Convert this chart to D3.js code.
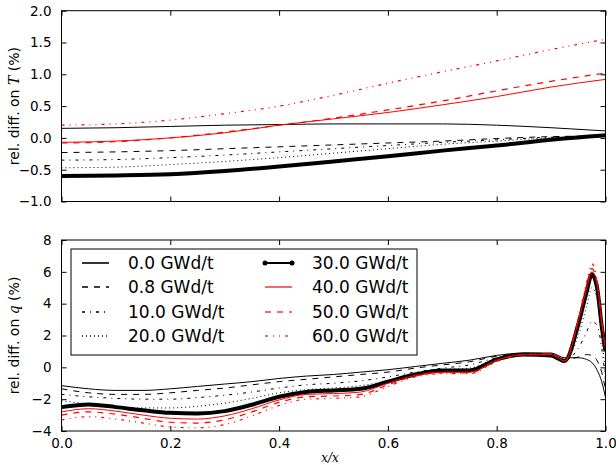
<!DOCTYPE html>
<html>
<head>
<meta charset="utf-8">
<script src="https://cdn.jsdelivr.net/npm/d3@7"></script>
<style>
  body { margin: 0; background: #fff; }
  text { font-family: "DejaVu Sans", sans-serif; fill: #000; }
</style>
</head>
<body>
<div id="chartDiv"></div>
<script>
// burnup steps (legend)
var burnups = ["0.0 GWd/t", "0.8 GWd/t", "10.0 GWd/t", "20.0 GWd/t",
               "30.0 GWd/t", "40.0 GWd/t", "50.0 GWd/t", "60.0 GWd/t"];

// top panel: relative difference on T (%)
var xT = [0, 0.1, 0.2, 0.3, 0.4, 0.5, 0.6, 0.7, 0.8, 0.9, 1.0];
var T_0  = [0.15, 0.16, 0.18, 0.20, 0.21, 0.22, 0.22, 0.22, 0.20, 0.16, 0.11];
var T_08 = [-0.23, -0.22, -0.20, -0.17, -0.14, -0.11, -0.08, -0.05, -0.01, 0.02, 0.03];
var T_10 = [-0.35, -0.34, -0.31, -0.27, -0.22, -0.17, -0.12, -0.07, -0.03, 0.01, 0.02];
var T_20 = [-0.47, -0.46, -0.42, -0.37, -0.31, -0.24, -0.17, -0.10, -0.05, 0.00, 0.02];
var T_30 = [-0.60, -0.59, -0.57, -0.52, -0.45, -0.37, -0.29, -0.20, -0.12, -0.03, 0.04];
var T_40 = [-0.07, -0.05, 0.00, 0.08, 0.20, 0.30, 0.40, 0.52, 0.65, 0.80, 0.92];
var T_50 = [-0.08, -0.06, 0.00, 0.09, 0.20, 0.31, 0.44, 0.58, 0.74, 0.89, 1.02];
var T_60 = [0.20, 0.22, 0.28, 0.38, 0.50, 0.67, 0.86, 1.04, 1.21, 1.39, 1.55];

// bottom panel: relative difference on q (%)
var xq = [0, 0.05, 0.1, 0.15, 0.2, 0.25, 0.3, 0.35, 0.4, 0.45, 0.5, 0.55, 0.6, 0.65,
          0.7, 0.75, 0.8, 0.85, 0.9, 0.925, 0.95, 0.965, 0.975, 0.985, 0.993, 1.0];
var q_0  = [-1.15, -1.35, -1.45, -1.45, -1.35, -1.2, -1.05, -0.9, -0.7, -0.55, -0.45, -0.3, -0.15,
            0.05, 0.25, 0.45, 0.75, 0.9, 0.9, 0.6, 0.6, 0.5, 0.3, -0.2, -0.9, -1.9];
var q_08 = [-1.35, -1.6, -1.7, -1.7, -1.6, -1.45, -1.3, -1.1, -0.9, -0.75, -0.6, -0.45, -0.3,
            -0.05, 0.15, 0.35, 0.7, 0.85, 0.85, 0.5, 0.65, 0.8, 0.75, 0.4, -0.3, -1.4];
var q_10 = [-1.7, -1.85, -1.95, -2.0, -2.0, -1.9, -1.75, -1.55, -1.3, -1.1, -1.0, -0.85, -0.6,
            -0.3, -0.05, 0.15, 0.6, 0.8, 0.8, 0.45, 1.2, 2.2, 2.9, 2.6, 1.2, -0.8];
var q_20 = [-2.1, -2.3, -2.45, -2.55, -2.55, -2.45, -2.25, -1.95, -1.6, -1.4, -1.3, -1.15, -0.85,
            -0.45, -0.15, -0.05, 0.55, 0.8, 0.8, 0.45, 2.0, 3.8, 5.0, 4.2, 2.0, -0.5];
var q_30 = [-2.5, -2.33, -2.5, -2.7, -2.86, -2.9, -2.75, -2.35, -1.85, -1.55, -1.45, -1.35, -0.9,
            -0.45, -0.2, -0.2, 0.5, 0.8, 0.75, 0.4, 2.7, 4.7, 5.85, 4.9, 2.6, 1.0];
var q_40 = [-2.8, -2.6, -2.75, -3.0, -3.2, -3.25, -3.05, -2.6, -2.05, -1.7, -1.65, -1.55, -1.0,
            -0.5, -0.3, -0.3, 0.45, 0.8, 0.8, 0.4, 2.9, 4.9, 6.0, 5.1, 2.8, 1.1];
var q_50 = [-3.0, -2.8, -2.95, -3.2, -3.45, -3.5, -3.3, -2.8, -2.2, -1.85, -1.8, -1.7, -1.1,
            -0.55, -0.35, -0.35, 0.4, 0.8, 0.85, 0.4, 3.0, 5.1, 6.2, 5.2, 2.9, 1.1];
var q_60 = [-3.3, -3.1, -3.25, -3.5, -3.75, -3.8, -3.6, -3.05, -2.4, -2.0, -1.95, -1.85, -1.2,
            -0.6, -0.4, -0.4, 0.35, 0.8, 0.85, 0.4, 3.1, 5.3, 6.5, 5.4, 3.0, 1.2];

var xTicks = [0, 0.2, 0.4, 0.6, 0.8, 1.0];
var yTicksT = [-1.0, -0.5, 0.0, 0.5, 1.0, 1.5, 2.0];
var yTicksQ = [-4, -2, 0, 2, 4, 6, 8];

// line styles per burnup, matplotlib classic look
var styles = [
    {color: "#000", width: 1, dash: null},
    {color: "#000", width: 1, dash: "6,6"},
    {color: "#000", width: 1, dash: "3,5,1,5"},
    {color: "#000", width: 1, dash: "1,3"},
    {color: "#000", width: 4, dash: null, marker: true},
    {color: "#ff0000", width: 1, dash: null},
    {color: "#ff0000", width: 1.2, dash: "6,6"},
    {color: "#ff0000", width: 1.2, dash: "3,5,1,5,1,5"}
];

var width = 616, height = 465;
var left = 61.5, right = 605.5;

var svg = d3.select("#chartDiv")
    .append("svg")
    .attr("width", width)
    .attr("height", height);

var x = d3.scaleLinear().domain([0, 1]).range([left, right]);

function drawPanel(top, bottom, ydom, yticks, yfmt, xs, series, showXLabels, id, labelParts) {
    var y = d3.scaleLinear().domain(ydom).range([bottom, top]);

    svg.append("clipPath").attr("id", id)
        .append("rect")
        .attr("x", left).attr("y", top)
        .attr("width", right - left).attr("height", bottom - top);

    var g = svg.append("g").attr("clip-path", "url(#" + id + ")");

    var line = d3.line()
        .x(function (d) { return x(d[0]); })
        .y(function (d) { return y(d[1]); })
        .curve(d3.curveMonotoneX);

    series.forEach(function (vals, i) {
        var st = styles[i];
        g.append("path")
            .datum(xs.map(function (v, k) { return [v, vals[k]]; }))
            .attr("d", line)
            .attr("fill", "none")
            .attr("stroke", st.color)
            .attr("stroke-width", st.width)
            .attr("stroke-dasharray", st.dash)
            .attr("stroke-linejoin", "round");
    });

    // axes, ticks pointing inward on all four sides
    svg.append("g")
        .attr("transform", "translate(0," + bottom + ")")
        .call(d3.axisBottom(x).tickValues(xTicks).tickSizeInner(-5).tickSizeOuter(0).tickPadding(7)
            .tickFormat(showXLabels ? d3.format(".1f") : ""))
        .call(styleAxis);
    svg.append("g")
        .attr("transform", "translate(0," + top + ")")
        .call(d3.axisTop(x).tickValues(xTicks).tickSizeInner(-5).tickSizeOuter(0).tickFormat(""))
        .call(styleAxis);
    svg.append("g")
        .attr("transform", "translate(" + left + ",0)")
        .call(d3.axisLeft(y).tickValues(yticks).tickSizeInner(-5).tickSizeOuter(0).tickPadding(10)
            .tickFormat(function (d) { return d3.format(yfmt)(d).replace("-", "\u2212"); }))
        .call(styleAxis);
    svg.append("g")
        .attr("transform", "translate(" + right + ",0)")
        .call(d3.axisRight(y).tickValues(yticks).tickSizeInner(-5).tickSizeOuter(0).tickFormat(""))
        .call(styleAxis);

    svg.append("rect")
        .attr("x", left).attr("y", top)
        .attr("width", right - left).attr("height", bottom - top)
        .attr("fill", "none")
        .attr("stroke", "#000")
        .attr("stroke-width", 1);

    // y label with an italic symbol
    var lab = svg.append("text")
        .attr("transform", "translate(14," + ((top + bottom) / 2) + ") rotate(-90)")
        .attr("text-anchor", "middle")
        .attr("dy", "0.35em")
        .style("font-size", "14px");
    lab.append("tspan").text(labelParts[0]);
    lab.append("tspan").text(labelParts[1])
        .style("font-family", "'DejaVu Serif', serif")
        .style("font-style", "italic");
    lab.append("tspan").text(labelParts[2]);

    return y;
}

function styleAxis(sel) {
    sel.select(".domain").remove();
    sel.selectAll(".tick line").attr("stroke", "#000").attr("stroke-width", 1);
    sel.selectAll(".tick text").style("font-size", "13.5px").attr("fill", "#000");
}

drawPanel(10.7, 201.5, [-1, 2], yTicksT, ".1f", xT,
    [T_0, T_08, T_10, T_20, T_30, T_40, T_50, T_60], false, "clipT",
    ["rel. diff. on ", "T", " (%)"]);

drawPanel(240, 431, [-4, 8], yTicksQ, "d", xq,
    [q_0, q_08, q_10, q_20, q_30, q_40, q_50, q_60], true, "clipQ",
    ["rel. diff. on ", "q", " (%)"]);

// x label, kept just inside the bottom edge
svg.append("text")
    .attr("x", 330)
    .attr("y", 462)
    .attr("text-anchor", "middle")
    .style("font-family", "'DejaVu Serif', serif")
    .style("font-style", "italic")
    .style("font-size", "12px")
    .text("x/x");

// legend
var legend = svg.append("g");
legend.append("rect")
    .attr("x", 71).attr("y", 249)
    .attr("width", 346).attr("height", 106)
    .attr("fill", "#fff")
    .attr("stroke", "#000")
    .attr("stroke-width", 1);

burnups.forEach(function (name, i) {
    var col = Math.floor(i / 4), row = i % 4;
    var lx = col === 0 ? 82 : 265;
    var tx = col === 0 ? 128 : 312;
    var ly = Math.round(263.3 + row * 24.1);
    var st = styles[i];
    legend.append("line")
        .attr("x1", lx).attr("x2", lx + 27)
        .attr("y1", ly).attr("y2", ly)
        .attr("stroke", st.color === "#000" ? "#000" : "#f04040")
        .attr("stroke-width", st.marker ? 2 : 1.6)
        .attr("stroke-dasharray", st.dash);
    if (st.marker) {
        [lx, lx + 27].forEach(function (cx) {
            legend.append("circle")
                .attr("cx", cx).attr("cy", ly).attr("r", 2.5)
                .attr("fill", "#000");
        });
    }
    legend.append("text")
        .attr("x", tx).attr("y", ly)
        .attr("dy", "0.35em")
        .style("font-size", "17px")
        .text(name);
});
</script>
</body>
</html>
